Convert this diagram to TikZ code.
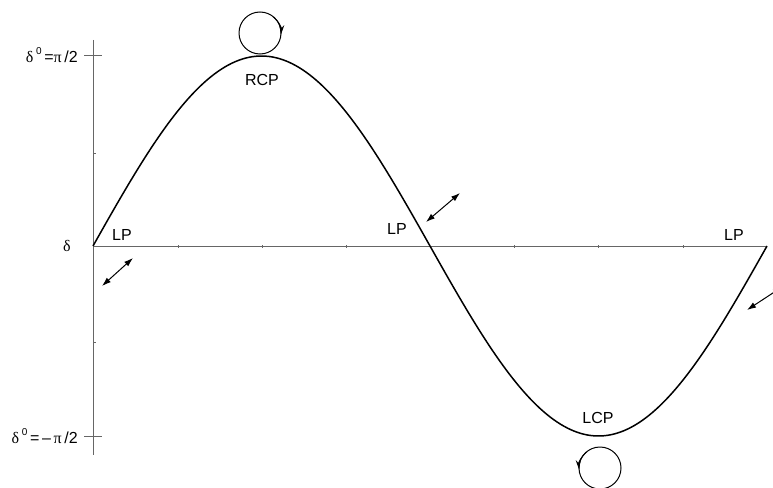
\documentclass[tikz,border=0pt]{standalone}
\usepackage{fontspec}
\setmainfont{Liberation Sans}
\newfontfamily\grk{Liberation Serif}
\usetikzlibrary{arrows.meta}
\tikzset{
  plaxis/.style={draw=black!60, line width=0.9pt},
  plcurve/.style={draw=black, line width=1.5pt},
  pllabel/.style={font=\fontsize{16}{18}\selectfont, inner sep=1pt},
  plarrow/.style={{Latex[length=9pt,width=6pt]}-{Latex[length=9pt,width=6pt]}, line width=1pt},
  plspin/.style={line width=1pt},
}

\begin{document}
\begin{tikzpicture}[x=1pt, y=-1pt]
  \useasboundingbox (0,0) rectangle (773,487);
  \clip (0,0) rectangle (773,487);
  % axes
  \coordinate (o) at (93,246);
  \coordinate (xend) at (767,246);
  \draw[plaxis] (o) -- (xend);
  \draw[plaxis] (93,40) -- (93,455);
  \draw[plaxis] (84,55) -- (102,55);
  \draw[plaxis] (84,436) -- (102,436);
  \foreach \t in {178,262,346,514,598,683}
    \draw[plaxis] (\t,245) -- (\t,248);
  \foreach \t in {153,342}
    \draw[plaxis] (93,\t) -- (96,\t);
  % phase curve
  \draw[plcurve] plot[domain=93:767, samples=200] (\x, {246-190*sin((\x-93)/674*360)});
  % axis labels
  \node (top) [pllabel, anchor=east] at (79,55) {{\grk δ}\,\raisebox{0.9ex}{\fontsize{10}{11}\selectfont 0}\,={\grk π}\,/2};
  \node (bot) [pllabel, anchor=east] at (79,436) {{\grk δ}\,\raisebox{0.9ex}{\fontsize{10}{11}\selectfont 0}\,=\,–\,{\grk π}\,/2};
  \node (dl) [pllabel] at (67,246) {\grk δ};
  % polarisation states
  \node (rcp) [pllabel] at (262,80) {RCP};
  \node (lcp) [pllabel] at (598,418) {LCP};
  \node (lp1) [pllabel] at (122,235) {LP};
  \node (lp2) [pllabel] at (397,229) {LP};
  \node (lp3) [pllabel] at (734,235) {LP};
  % linear polarisation arrows
  \coordinate (a1) at (102,286); \coordinate (b1) at (133,258);
  \coordinate (a2) at (426,222); \coordinate (b2) at (460,193);
  \coordinate (a3) at (747,310); \coordinate (b3) at (782,287);
  \draw[plarrow] (a1) -- (b1);
  \draw[plarrow] (a2) -- (b2);
  \draw[plarrow] (a3) -- (b3);
  % circular polarisation
  \coordinate (rc) at (260,33);
  \coordinate (lc) at (600,468);
  \draw[plspin] (rc) circle[radius=21];
  \draw[plspin, -{Stealth[length=10pt,width=5pt]}] (rc) ++(-50:21) arc[start angle=-50, end angle=5, radius=21];
  \draw[plspin] (lc) circle[radius=21];
  \draw[plspin, -{Stealth[length=10pt,width=5pt]}] (lc) ++(230:21) arc[start angle=230, end angle=175, radius=21];
\end{tikzpicture}
\end{document}
